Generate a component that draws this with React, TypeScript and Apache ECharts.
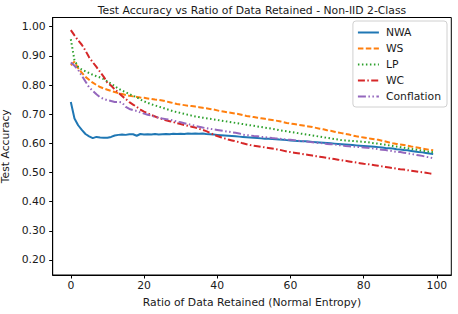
import React, { useEffect, useRef } from "react";
import * as echarts from "echarts";

const title = "Test Accuracy vs Ratio of Data Retained - Non-IID 2-Class";
const xLabel = "Ratio of Data Retained (Normal Entropy)";
const yLabel = "Test Accuracy";
const xTicks = [0, 20, 40, 60, 80, 100];
const yTicks = [0.2, 0.3, 0.4, 0.5, 0.6, 0.7, 0.8, 0.9, 1.0];
const seriesNames = ["NWA", "WS", "LP", "WC", "Conflation"];
const colors = ["#1f77b4", "#ff7f0e", "#2ca02c", "#d62728", "#9467bd"];

const ratios = Array.from({ length: 100 }, (_, i) => i);

const nwa = [
  0.742, 0.685, 0.662, 0.646, 0.632, 0.624, 0.618, 0.622, 0.620, 0.619,
  0.619, 0.622, 0.627, 0.629, 0.630, 0.629, 0.631, 0.631, 0.626, 0.632,
  0.630, 0.631, 0.630, 0.632, 0.630, 0.631, 0.632, 0.631, 0.633, 0.632,
  0.633, 0.632, 0.634, 0.633, 0.634, 0.633, 0.634, 0.632, 0.631, 0.630,
  0.629, 0.628, 0.627, 0.626, 0.625, 0.624, 0.623, 0.622, 0.621, 0.620,
  0.619, 0.618, 0.617, 0.616, 0.616, 0.615, 0.614, 0.613, 0.612, 0.611,
  0.610, 0.609, 0.608, 0.607, 0.607, 0.606, 0.605, 0.604, 0.603, 0.602,
  0.601, 0.600, 0.599, 0.598, 0.597, 0.596, 0.595, 0.594, 0.593, 0.592,
  0.591, 0.590, 0.589, 0.588, 0.587, 0.586, 0.584, 0.583, 0.582, 0.580,
  0.579, 0.577, 0.576, 0.574, 0.572, 0.570, 0.569, 0.567, 0.565, 0.563,
];

const ws = [
  0.868, 0.880, 0.858, 0.842, 0.828, 0.818, 0.808, 0.800, 0.793, 0.788,
  0.784, 0.780, 0.776, 0.772, 0.769, 0.766, 0.763, 0.761, 0.759, 0.757,
  0.756, 0.754, 0.752, 0.750, 0.749, 0.747, 0.744, 0.741, 0.738, 0.735,
  0.733, 0.731, 0.729, 0.728, 0.726, 0.724, 0.722, 0.720, 0.718, 0.716,
  0.713, 0.710, 0.708, 0.706, 0.704, 0.702, 0.700, 0.697, 0.694, 0.692,
  0.690, 0.688, 0.686, 0.684, 0.682, 0.680, 0.678, 0.676, 0.673, 0.670,
  0.668, 0.666, 0.664, 0.662, 0.660, 0.658, 0.656, 0.653, 0.650, 0.648,
  0.645, 0.643, 0.640, 0.637, 0.635, 0.632, 0.630, 0.627, 0.624, 0.622,
  0.620, 0.618, 0.616, 0.614, 0.612, 0.609, 0.606, 0.603, 0.600, 0.598,
  0.596, 0.594, 0.592, 0.589, 0.587, 0.585, 0.582, 0.580, 0.578, 0.576,
];

const lp = [
  0.957, 0.885, 0.862, 0.853, 0.847, 0.841, 0.835, 0.830, 0.826, 0.820,
  0.812, 0.805, 0.796, 0.788, 0.781, 0.775, 0.769, 0.763, 0.758, 0.750,
  0.744, 0.739, 0.734, 0.730, 0.726, 0.722, 0.718, 0.714, 0.710, 0.707,
  0.704, 0.701, 0.698, 0.695, 0.692, 0.690, 0.688, 0.686, 0.684, 0.682,
  0.680, 0.678, 0.676, 0.674, 0.672, 0.670, 0.668, 0.666, 0.664, 0.662,
  0.660, 0.658, 0.656, 0.654, 0.652, 0.650, 0.648, 0.645, 0.643, 0.641,
  0.639, 0.637, 0.635, 0.633, 0.631, 0.629, 0.627, 0.625, 0.623, 0.621,
  0.619, 0.617, 0.615, 0.613, 0.611, 0.610, 0.609, 0.608, 0.607, 0.606,
  0.605, 0.604, 0.602, 0.600, 0.599, 0.597, 0.595, 0.593, 0.591, 0.589,
  0.587, 0.585, 0.583, 0.581, 0.579, 0.577, 0.575, 0.573, 0.571, 0.569,
];

const wc = [
  0.988, 0.970, 0.953, 0.938, 0.918, 0.895, 0.878, 0.862, 0.845, 0.828,
  0.808, 0.798, 0.785, 0.774, 0.762, 0.752, 0.741, 0.733, 0.725, 0.716,
  0.709, 0.703, 0.697, 0.692, 0.687, 0.683, 0.679, 0.676, 0.673, 0.669,
  0.666, 0.663, 0.660, 0.657, 0.654, 0.650, 0.646, 0.642, 0.636, 0.630,
  0.625, 0.621, 0.617, 0.613, 0.610, 0.607, 0.604, 0.600, 0.597, 0.594,
  0.592, 0.590, 0.588, 0.586, 0.584, 0.582, 0.580, 0.578, 0.575, 0.572,
  0.570, 0.568, 0.566, 0.564, 0.562, 0.560, 0.558, 0.556, 0.554, 0.552,
  0.550, 0.548, 0.546, 0.544, 0.542, 0.540, 0.538, 0.536, 0.534, 0.532,
  0.530, 0.529, 0.527, 0.525, 0.523, 0.521, 0.519, 0.517, 0.515, 0.513,
  0.511, 0.510, 0.508, 0.506, 0.504, 0.502, 0.501, 0.499, 0.497, 0.495,
];

const conflation = [
  0.877, 0.866, 0.852, 0.832, 0.812, 0.792, 0.780, 0.768, 0.758, 0.752,
  0.748, 0.745, 0.742, 0.742, 0.740, 0.725, 0.718, 0.714, 0.711, 0.706,
  0.702, 0.698, 0.695, 0.691, 0.688, 0.685, 0.683, 0.681, 0.678, 0.675,
  0.672, 0.669, 0.666, 0.663, 0.660, 0.657, 0.654, 0.652, 0.650, 0.648,
  0.646, 0.644, 0.642, 0.640, 0.638, 0.636, 0.634, 0.630, 0.628, 0.627,
  0.625, 0.624, 0.622, 0.621, 0.620, 0.618, 0.617, 0.616, 0.614, 0.613,
  0.612, 0.611, 0.609, 0.608, 0.607, 0.605, 0.604, 0.602, 0.601, 0.600,
  0.598, 0.597, 0.596, 0.594, 0.593, 0.591, 0.590, 0.589, 0.588, 0.587,
  0.586, 0.585, 0.583, 0.582, 0.580, 0.578, 0.577, 0.575, 0.573, 0.571,
  0.570, 0.568, 0.566, 0.564, 0.561, 0.559, 0.557, 0.554, 0.552, 0.549,
];

const seriesValues = [nwa, ws, lp, wc, conflation];
const dashes: any[] = ["solid", [5.5, 2.4], [1.5, 2.5], [7, 2.4, 1.5, 2.4], [8, 2.5, 1.5, 2.5, 1.5, 2.5]];

const FONT = "DejaVu Sans";
const TXT = "#1a1a1a";
const FS = 10.8;

export default function App() {
  const ref = useRef<HTMLDivElement>(null);
  useEffect(() => {
    if (!ref.current) return;
    const chart = echarts.init(ref.current, undefined, { renderer: "svg" });
    chart.setOption({
      animation: false,
      backgroundColor: "#ffffff",
      title: {
        text: title,
        left: 252,
        top: 5,
        padding: 0,
        textAlign: "center",
        textStyle: { fontFamily: FONT, fontSize: FS, fontWeight: "normal", color: TXT },
      },
      grid: {
        left: 52.7,
        right: 6.7,
        top: 17.5,
        bottom: 39,
        outerBoundsMode: "none",
        containLabel: false,
        show: true,
        borderColor: "#000",
        borderWidth: 1,
      },
      legend: {
        orient: "vertical",
        right: 11,
        top: 21,
        padding: [6, 6, 5, 4],
        itemWidth: 21,
        itemHeight: 10,
        itemGap: 5,
        backgroundColor: "#fff",
        borderColor: "#d0d0d0",
        borderWidth: 1,
        borderRadius: 3,
        itemStyle: { opacity: 0, borderWidth: 0 },
        textStyle: { fontFamily: FONT, fontSize: FS, color: TXT, padding: [0, 0, 0, 2] },
        data: seriesNames,
      },
      xAxis: {
        type: "value",
        min: -4.95,
        max: 103.95,
        name: xLabel,
        nameLocation: "middle",
        nameGap: 22,
        nameTextStyle: { fontFamily: FONT, fontSize: FS, color: TXT },
        axisLine: { show: true, onZero: false, lineStyle: { color: "#000", width: 1 } },
        axisTick: { show: true, length: 3.5, inside: false, customValues: xTicks, lineStyle: { color: "#000" } },
        axisLabel: {
          customValues: xTicks,
          margin: 5,
          fontFamily: FONT,
          fontSize: FS,
          color: TXT,
          formatter: (v: number) => String(Math.round(v)),
        },
        splitLine: { show: false },
      },
      yAxis: {
        type: "value",
        min: 0.1485,
        max: 1.0315,
        name: yLabel,
        nameLocation: "middle",
        nameGap: 35,
        nameRotate: 90,
        nameTextStyle: { fontFamily: FONT, fontSize: FS, color: TXT },
        axisLine: { show: true, onZero: false, lineStyle: { color: "#000", width: 1 } },
        axisTick: { show: true, length: 3.5, inside: false, customValues: yTicks, lineStyle: { color: "#000" } },
        axisLabel: {
          customValues: yTicks,
          margin: 7,
          fontFamily: FONT,
          fontSize: FS,
          color: TXT,
          formatter: (v: number) => v.toFixed(2),
        },
        splitLine: { show: false },
      },
      series: seriesNames.map((name, i) => ({
        name,
        type: "line",
        symbol: "none",
        color: colors[i],
        lineStyle: { color: colors[i], width: 2, type: dashes[i] },
        data: ratios.map((r, j) => [r, seriesValues[i][j]]),
        z: 2 + i,
      })),
    });
    return () => chart.dispose();
  }, []);
  return (
    <div
      ref={ref}
      style={{ position: "absolute", left: 0, top: 0, width: 458, height: 314 }}
    />
  );
}
